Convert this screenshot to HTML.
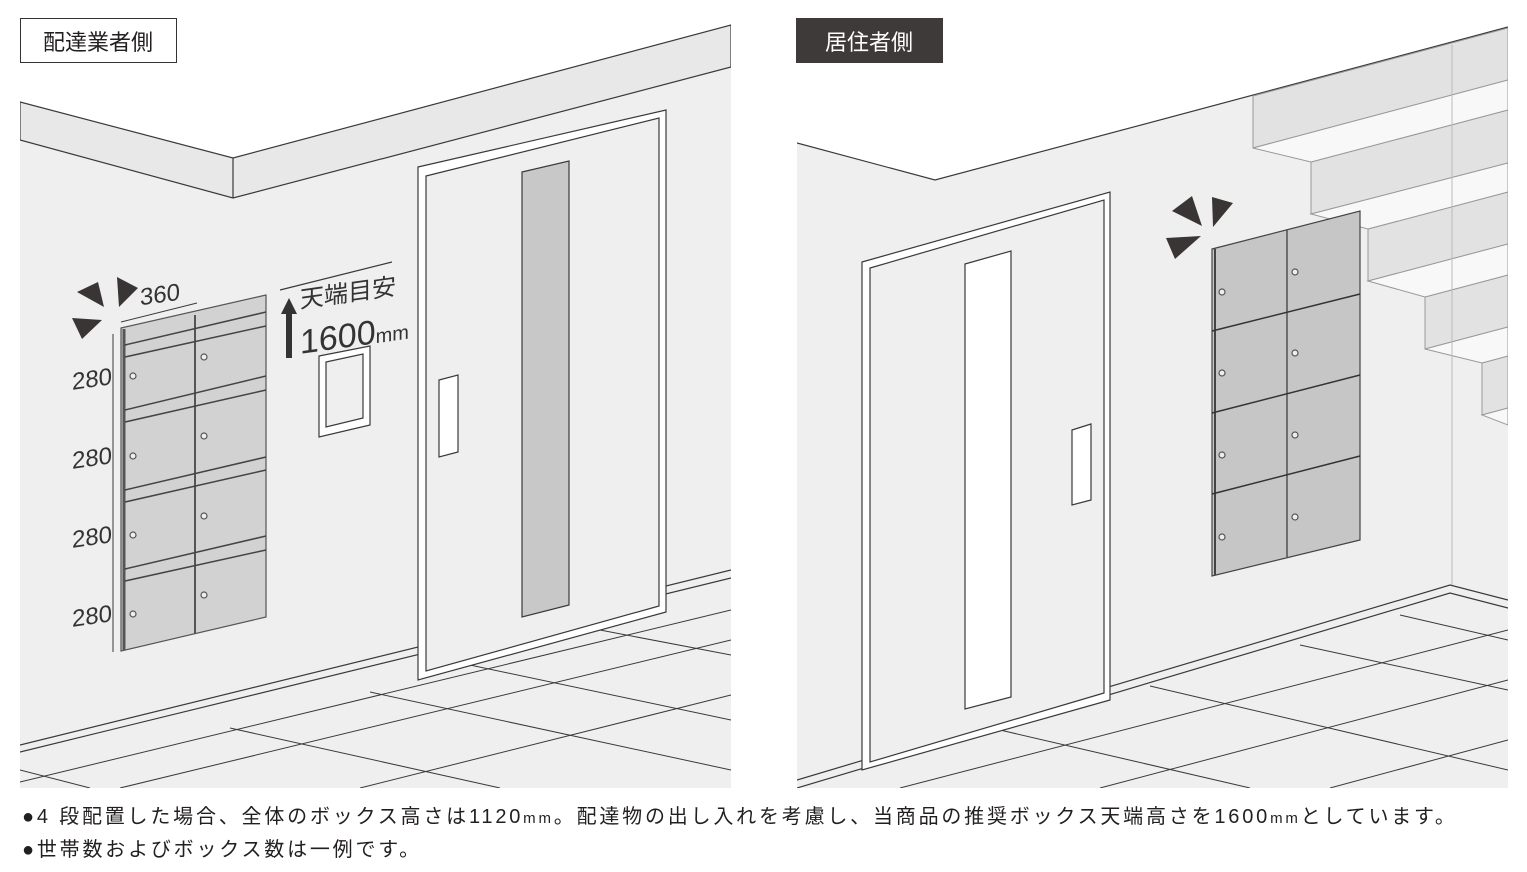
<!DOCTYPE html>
<html><head><meta charset="utf-8"><style>
body{margin:0;background:#fff;width:1527px;height:872px;overflow:hidden;font-family:"Liberation Sans","Noto Sans CJK JP",sans-serif}
.t{position:absolute;left:22px;font-size:20px;letter-spacing:2.8px;color:#231f20;white-space:nowrap}
</style></head><body>
<svg width="1527" height="790" style="position:absolute;left:0;top:0" font-family="Liberation Sans, Noto Sans CJK JP, sans-serif">
<defs><clipPath id="cl"><rect x="20" y="0" width="711" height="788"/></clipPath><clipPath id="cr"><rect x="797" y="0" width="711" height="788"/></clipPath></defs>
<!-- LEFT -->
<g clip-path="url(#cl)" stroke="#3a3a3a" stroke-width="1.2">
<polygon points="20,102 233,158 731,25 731,788 20,788" fill="#efefef" stroke="none"/>
<polygon points="20,102 233,158 731,25 731,67 233,198 20,140" fill="#e8e8e8"/>
<line x1="233" y1="158" x2="233" y2="198"/>
<polyline points="20,745 731,570" fill="none"/><polyline points="20,752 731,578" fill="none"/>
<g fill="none" stroke-width="1"><line x1="20" y1="782" x2="731" y2="610"/><line x1="120" y1="788" x2="731" y2="640"/><line x1="360" y1="788" x2="731" y2="695"/>
<line x1="230" y1="728" x2="500" y2="788"/><line x1="370" y1="692" x2="731" y2="770"/><line x1="470" y1="665" x2="731" y2="720"/><line x1="600" y1="630" x2="731" y2="655"/><line x1="20" y1="770" x2="90" y2="788"/></g>
<polygon points="418,167 666,110 666,612 418,680" fill="#fff"/>
<polygon points="426,176 659,118 659,606 426,671" fill="#efefef"/>
<polygon points="522,172 569,161 569,605 522,617" fill="#c8c8c8"/>
<polygon points="439,380 458,375 458,452 439,457" fill="#fff"/>
<polygon points="319,356 370,346 370,425 319,437" fill="#fff"/>
<polygon points="326,362 363,354 363,418 326,427" fill="#efefef"/>
<polygon points="121,328 266,295 266,617 121,651" fill="#d2d2d2" stroke="#555"/>
<line x1="124" y1="329" x2="124" y2="650" stroke="#555" stroke-width="3"/>
<line x1="195" y1="315" x2="195" y2="634" stroke="#555" stroke-width="2"/>
<g stroke="#444" stroke-width="1.5">
<line x1="125" y1="345" x2="266" y2="312"/><line x1="125" y1="357" x2="266" y2="326"/>
<line x1="125" y1="410" x2="266" y2="376"/><line x1="125" y1="422" x2="266" y2="390"/>
<line x1="125" y1="490" x2="266" y2="457"/><line x1="125" y1="502" x2="266" y2="470"/>
<line x1="125" y1="569" x2="266" y2="536"/><line x1="125" y1="581" x2="266" y2="550"/>
</g>
<g fill="#eee" stroke="#555"><circle cx="133" cy="376" r="3"/><circle cx="204" cy="357" r="3"/><circle cx="133" cy="456" r="3"/><circle cx="204" cy="436" r="3"/><circle cx="133" cy="535" r="3"/><circle cx="204" cy="516" r="3"/><circle cx="133" cy="614" r="3"/><circle cx="204" cy="595" r="3"/></g>
<line x1="113" y1="334" x2="113" y2="652" stroke-width="1"/>
<line x1="121" y1="322" x2="197" y2="303" stroke-width="1"/>
<line x1="280" y1="290" x2="392" y2="262" stroke-width="1.2"/>
</g>
<polygon points="289,298 281,314 286,314 286,358 292,358 292,314 297,314" fill="#333"/>
<g fill="#3a3535"><polygon points="77,292 98,282 104,307"/><polygon points="117,277 138,288 119,307"/><polygon points="72,318 102,320 82,339"/></g>
<g fill="#333" font-size="24" transform="skewY(-8)"><text x="140" y="325">360</text><text x="72" y="400">280</text><text x="72" y="479">280</text><text x="72" y="558">280</text><text x="72" y="637">280</text>
<text x="300" y="350" font-size="24">天端目安</text><text x="300" y="396" font-size="34">1600<tspan font-size="20">mm</tspan></text></g>
<!-- RIGHT -->
<g clip-path="url(#cr)" stroke="#3a3a3a" stroke-width="1.2">
<polygon points="797,143 935,180 1508,27 1508,788 797,788" fill="#efefef" stroke="none"/>
<polyline points="797,143 935,180 1508,27" fill="none"/>
<g fill="#e2e2e2" stroke="#999" stroke-width="1">
<polygon points="1253,96 1508,28 1508,80 1253,148"/>
<polygon points="1311,162 1508,110 1508,163 1311,214"/>
<polygon points="1368,229 1508,192 1508,244 1368,281"/>
<polygon points="1425,297 1508,275 1508,327 1425,349"/>
<polygon points="1482,363 1508,356 1508,408 1482,415"/>
</g>
<g fill="#f8f8f8" stroke="#999" stroke-width="1">
<polygon points="1253,148 1508,80 1508,110 1311,162"/>
<polygon points="1311,214 1508,163 1508,192 1368,229"/>
<polygon points="1368,281 1508,244 1508,275 1425,297"/>
<polygon points="1425,349 1508,327 1508,356 1482,363"/>
<polygon points="1482,415 1508,408 1508,425"/>
</g>
<line x1="1452" y1="45" x2="1452" y2="585" stroke="#bbb" stroke-width="1"/>
<polyline points="797,780 1450,585 1508,600" fill="none"/><polyline points="797,788 1450,593 1508,608" fill="none"/>
<g fill="none" stroke-width="1"><line x1="900" y1="788" x2="1508" y2="630"/><line x1="1100" y1="788" x2="1508" y2="680"/><line x1="1330" y1="788" x2="1508" y2="740"/>
<line x1="1000" y1="730" x2="1250" y2="788"/><line x1="1150" y1="686" x2="1508" y2="770"/><line x1="1300" y1="645" x2="1508" y2="690"/><line x1="1400" y1="615" x2="1508" y2="640"/></g>
<polygon points="862,262 1110,192 1110,700 862,770" fill="#fff"/>
<polygon points="870,268 1104,200 1104,693 870,762" fill="#efefef"/>
<polygon points="965,264 1011,251 1011,697 965,709" fill="#fff"/>
<polygon points="1072,430 1091,424 1091,500 1072,505" fill="#fff"/>
<polygon points="1212,249 1360,211 1360,540 1212,576" fill="#c6c6c6" stroke="#444"/>
<line x1="1215" y1="249" x2="1215" y2="575" stroke="#444" stroke-width="2"/>
<line x1="1287" y1="230" x2="1287" y2="557" stroke="#333"/>
<g stroke="#333" stroke-width="1.5"><line x1="1212" y1="331" x2="1360" y2="294"/><line x1="1212" y1="413" x2="1360" y2="375"/><line x1="1212" y1="494" x2="1360" y2="456"/></g>
<g fill="#eee" stroke="#555"><circle cx="1222" cy="292" r="3"/><circle cx="1295" cy="272" r="3"/><circle cx="1222" cy="373" r="3"/><circle cx="1295" cy="353" r="3"/><circle cx="1222" cy="455" r="3"/><circle cx="1295" cy="435" r="3"/><circle cx="1222" cy="537" r="3"/><circle cx="1295" cy="517" r="3"/></g>
</g>
<g fill="#3a3535"><polygon points="1172,211 1192,196 1202,226"/><polygon points="1212,197 1233,203 1213,227"/><polygon points="1166,238 1201,236 1175,259"/></g>
<!-- labels -->
<rect x="20.5" y="18.5" width="156" height="44" fill="#fff" stroke="#333"/>
<text x="98" y="50" font-size="22" text-anchor="middle" fill="#231f20">配達業者側</text>
<rect x="796" y="18" width="147" height="45" fill="#3e3a39"/>
<text x="869" y="50" font-size="22" text-anchor="middle" fill="#fff">居住者側</text>
</svg>
<div class="t" style="top:800px">●4 段配置した場合、全体のボックス高さは1120<span style="font-size:15px">mm</span>。配達物の出し入れを考慮し、当商品の推奨ボックス天端高さを1600<span style="font-size:15px">mm</span>としています。</div>
<div class="t" style="top:833px">●世帯数およびボックス数は一例です。</div>
</body></html>
